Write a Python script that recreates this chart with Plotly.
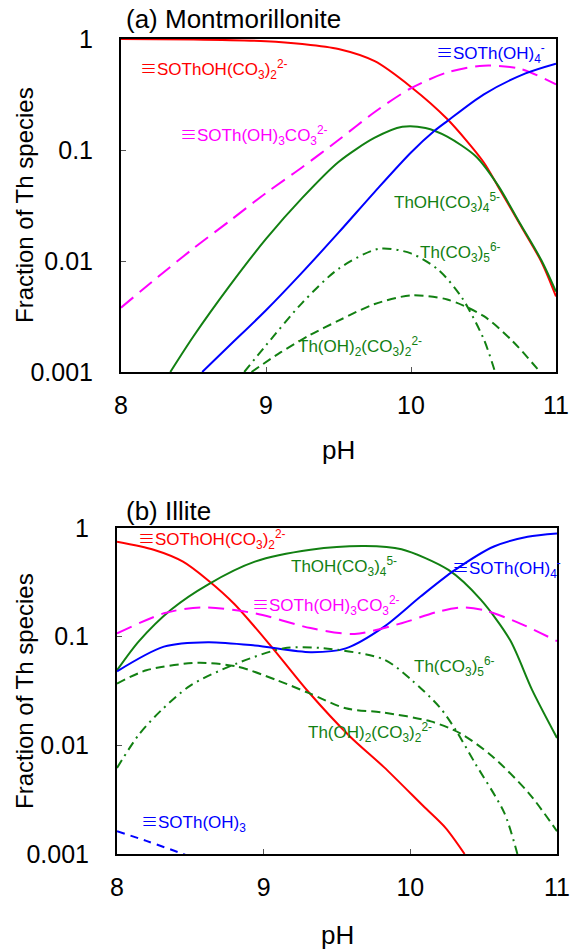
import plotly.graph_objects as go

# ---------------- Panel (a) Montmorillonite ----------------
a_red_ph = [8.0, 8.5, 9.0, 9.25, 9.5, 9.75, 10.0, 10.25, 10.5, 10.6, 10.75, 10.9, 11.0]
a_red = [1.0, 0.991, 0.955, 0.902, 0.813, 0.631, 0.37, 0.19, 0.078, 0.047, 0.0215, 0.0098, 0.0048]

a_mag_ph = [8.0, 8.25, 8.5, 8.75, 9.0, 9.25, 9.5, 9.75, 10.0, 10.25, 10.5, 10.75, 11.0]
a_mag = [0.0038, 0.0071, 0.013, 0.023, 0.041, 0.07, 0.123, 0.22, 0.36, 0.5, 0.575, 0.54, 0.39]

a_grn_ph = [8.34, 8.5, 8.75, 9.0, 9.25, 9.5, 9.75, 9.94, 10.1, 10.25, 10.45, 10.6, 10.75, 10.9, 11.0]
a_grn = [0.001, 0.0021, 0.006, 0.0158, 0.037, 0.078, 0.129, 0.162, 0.158, 0.132, 0.087, 0.048, 0.022, 0.0101, 0.0053]

a_blu_ph = [8.56, 8.75, 9.0, 9.25, 9.5, 9.75, 10.0, 10.16, 10.25, 10.5, 10.79, 11.0]
a_blu = [0.001, 0.00174, 0.0036, 0.0079, 0.018, 0.042, 0.095, 0.148, 0.182, 0.316, 0.49, 0.6]

a_dd_ph = [8.85, 9.0, 9.25, 9.5, 9.78, 10.0, 10.19, 10.35, 10.5, 10.58]
a_dd = [0.001, 0.00174, 0.0042, 0.0085, 0.0129, 0.0117, 0.0083, 0.0047, 0.002, 0.001]

a_ds_ph = [8.9, 9.1, 9.3, 9.5, 9.75, 10.0, 10.25, 10.5, 10.7, 10.89]
a_ds = [0.001, 0.0015, 0.00214, 0.0029, 0.0041, 0.0049, 0.0045, 0.0032, 0.0019, 0.001]

# ---------------- Panel (b) Illite ----------------
b_red_ph = [8.0, 8.25, 8.45, 8.62, 8.8, 9.04, 9.3, 9.59, 9.82, 10.09, 10.24, 10.37]
b_red = [0.748, 0.631, 0.49, 0.331, 0.2, 0.085, 0.0316, 0.012, 0.0063, 0.00275, 0.00174, 0.001]

b_grn_ph = [8.0, 8.15, 8.37, 8.62, 8.94, 9.32, 9.69, 9.94, 10.26, 10.48, 10.68, 10.83, 11.0]
b_grn = [0.049, 0.091, 0.178, 0.302, 0.49, 0.63, 0.682, 0.637, 0.411, 0.219, 0.093, 0.0324, 0.0117]

b_blu_ph = [8.0, 8.32, 8.62, 8.94, 9.32, 9.56, 9.82, 10.07, 10.3, 10.57, 10.8, 11.0]
b_blu = [0.048, 0.081, 0.089, 0.083, 0.072, 0.078, 0.123, 0.234, 0.407, 0.676, 0.83, 0.89]

b_mag_ph = [8.0, 8.32, 8.57, 8.94, 9.32, 9.62, 9.94, 10.19, 10.36, 10.51, 10.75, 11.0]
b_mag = [0.107, 0.164, 0.186, 0.164, 0.12, 0.106, 0.133, 0.17, 0.186, 0.174, 0.132, 0.091]

b_dd_ph = [8.0, 8.15, 8.3, 8.5, 8.82, 9.14, 9.41, 9.82, 10.01, 10.2, 10.31, 10.44, 10.64, 10.73]
b_dd = [0.0062, 0.0126, 0.0209, 0.0355, 0.0569, 0.0782, 0.0782, 0.0617, 0.0398, 0.0224, 0.0138, 0.0069, 0.0024, 0.001]

b_ds_ph = [8.0, 8.2, 8.55, 8.82, 9.09, 9.31, 9.56, 9.82, 10.14, 10.34, 10.56, 10.81, 11.0]
b_ds = [0.037, 0.049, 0.0575, 0.053, 0.0398, 0.0302, 0.0219, 0.02, 0.0166, 0.0129, 0.0079, 0.0036, 0.00162]

b_bd_ph = [8.0, 8.2, 8.45, 8.6]
b_bd = [0.00162, 0.00132, 0.001, 0.00083]

x_ticks = [8, 9, 10, 11]
y_ticks = [0.001, 0.01, 0.1, 1]
y_ticktext = ["0.001", "0.01", "0.1", "1"]

RED = "#ff0000"
BLUE = "#0000ff"
MAG = "#ff00ff"
GRN = "#128012"
FONT = "Liberation Sans, Arial, sans-serif"
EQ = "<span style=\"font-family:Noto Sans CJK JP\">≡</span>"

fig = go.Figure()


def add(ph, val, color, dash, xa, ya):
    fig.add_trace(go.Scatter(x=ph, y=val, mode="lines", xaxis=xa, yaxis=ya,
                             line=dict(color=color, width=2, dash=dash, shape="spline", smoothing=0.8),
                             showlegend=False, hoverinfo="skip"))


LONG = "16px,8px"
SHORT = "9px,5px"
DDOT = "9px,5px,2px,5px"

add(a_red_ph, a_red, RED, "solid", "x", "y")
add(a_mag_ph, a_mag, MAG, LONG, "x", "y")
add(a_grn_ph, a_grn, GRN, "solid", "x", "y")
add(a_blu_ph, a_blu, BLUE, "solid", "x", "y")
add(a_dd_ph, a_dd, GRN, DDOT, "x", "y")
add(a_ds_ph, a_ds, GRN, SHORT, "x", "y")

add(b_red_ph, b_red, RED, "solid", "x2", "y2")
add(b_grn_ph, b_grn, GRN, "solid", "x2", "y2")
add(b_blu_ph, b_blu, BLUE, "solid", "x2", "y2")
add(b_mag_ph, b_mag, MAG, LONG, "x2", "y2")
add(b_dd_ph, b_dd, GRN, DDOT, "x2", "y2")
add(b_ds_ph, b_ds, GRN, SHORT, "x2", "y2")
add(b_bd_ph, b_bd, BLUE, "8px,6px", "x2", "y2")

W, H = 571, 949

xcommon = dict(range=[8, 11], tickvals=x_ticks, ticktext=[str(t) for t in x_ticks],
               showgrid=False, zeroline=False, showline=True, mirror=True, automargin=False,
               linecolor="black", linewidth=2, ticks="inside", ticklen=5, tickwidth=1,
               tickcolor="#555", tickfont=dict(size=25, color="black", family=FONT),
               ticklabelstandoff=10)
ycommon = dict(type="log", range=[-3, 0], tickvals=y_ticks, ticktext=y_ticktext,
               showgrid=False, zeroline=False, showline=True, mirror=True, automargin=False,
               linecolor="black", linewidth=2, ticks="inside", ticklen=5, tickwidth=1,
               tickcolor="#555", tickfont=dict(size=25, color="black", family=FONT),
               ticklabelstandoff=21)

fig.update_layout(
    width=W, height=H, margin=dict(l=0, r=0, t=0, b=0, pad=0, autoexpand=False),
    paper_bgcolor="white", plot_bgcolor="white",
    font=dict(family=FONT, color="black"),
    xaxis=dict(domain=[121 / W, 556 / W], anchor="y", **xcommon),
    yaxis=dict(domain=[1 - 372 / H, 1 - 39 / H], anchor="x", **ycommon),
    xaxis2=dict(domain=[117 / W, 557 / W], anchor="y2", **xcommon),
    yaxis2=dict(domain=[1 - 854 / H, 1 - 528 / H], anchor="x2", **ycommon),
)

ann = []


def lab(text, x, y, color, xr, yr, size=17):
    ann.append(dict(text=text, x=x, y=y, xref=xr, yref=yr, xanchor="left", yanchor="middle",
                    showarrow=False, font=dict(size=size, color=color, family=FONT)))


# panel (a) labels
lab(EQ + "SOThOH(CO<sub>3</sub>)<sub>2</sub><sup>2-</sup>", 8.12, -0.27, RED, "x", "y")
lab(EQ + "SOTh(OH)<sub>4</sub><sup>-</sup>", 10.16, -0.12, BLUE, "x", "y")
lab(EQ + "SOTh(OH)<sub>3</sub>CO<sub>3</sub><sup>2-</sup>", 8.39, -0.86, MAG, "x", "y")
lab("ThOH(CO<sub>3</sub>)<sub>4</sub><sup>5-</sup>", 9.87, -1.47, GRN, "x", "y")
lab("Th(CO<sub>3</sub>)<sub>5</sub><sup>6-</sup>", 10.05, -1.92, GRN, "x", "y")
lab("Th(OH)<sub>2</sub>(CO<sub>3</sub>)<sub>2</sub><sup>2-</sup>", 9.21, -2.77, GRN, "x", "y")

# panel (b) labels
lab(EQ + "SOThOH(CO<sub>3</sub>)<sub>2</sub><sup>2-</sup>", 8.13, -0.10, RED, "x2", "y2")
lab("ThOH(CO<sub>3</sub>)<sub>4</sub><sup>5-</sup>", 9.17, -0.35, GRN, "x2", "y2")
lab(EQ + "SOTh(OH)<sub>4</sub><sup>-</sup>", 10.27, -0.36, BLUE, "x2", "y2")
lab(EQ + "SOTh(OH)<sub>3</sub>CO<sub>3</sub><sup>2-</sup>", 8.91, -0.70, MAG, "x2", "y2")
lab("Th(CO<sub>3</sub>)<sub>5</sub><sup>6-</sup>", 10.01, -1.27, GRN, "x2", "y2")
lab("Th(OH)<sub>2</sub>(CO<sub>3</sub>)<sub>2</sub><sup>2-</sup>", 9.29, -1.88, GRN, "x2", "y2")
lab(EQ + "SOTh(OH)<sub>3</sub>", 8.15, -2.70, BLUE, "x2", "y2")

# titles
for txt, yy in [("(a) Montmorillonite", 19), ("(b) Illite", 511)]:
    ann.append(dict(text=txt, x=124 / W, y=1 - yy / H, xref="paper", yref="paper",
                    xanchor="left", yanchor="middle", showarrow=False,
                    font=dict(size=26, color="black", family=FONT)))
# axis titles
for cx, yy in [((121 + 556) / 2, 450), ((117 + 557) / 2, 935)]:
    ann.append(dict(text="pH", x=cx / W, y=1 - yy / H, xref="paper", yref="paper",
                    xanchor="center", yanchor="middle", showarrow=False,
                    font=dict(size=26, color="black", family=FONT)))
for yy in [205, 691]:
    ann.append(dict(text="Fraction of Th species", x=24 / W, y=1 - yy / H, xref="paper", yref="paper",
                    xanchor="center", yanchor="middle", textangle=-90, showarrow=False,
                    font=dict(size=24, color="black", family=FONT)))

fig.update_layout(annotations=ann)
fig.write_html("out.html", config={"displayModeBar": False},
               post_script="document.body.style.margin='0';document.documentElement.style.overflow='hidden';")
